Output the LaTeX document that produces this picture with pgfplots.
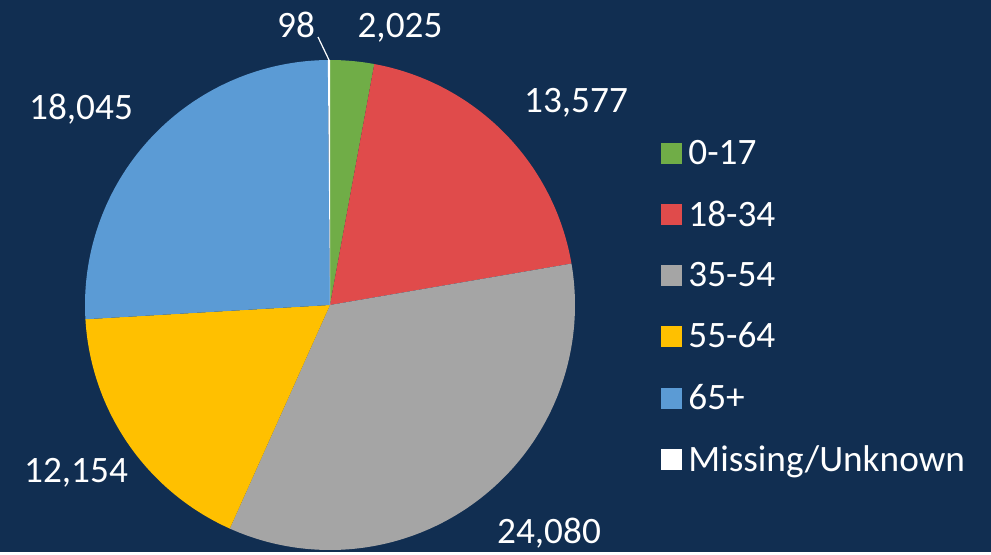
\documentclass[border=0pt]{standalone}
\usepackage{pgfplots}
\pgfplotsset{compat=1.18}
\usepackage{pgfplotstable}
\usepackage{fontspec}
\setmainfont{Carlito}
\definecolor{bgnavy}{HTML}{112E51}
\definecolor{cgreen}{HTML}{70AD47}
\definecolor{cred}{HTML}{E04B4B}
\definecolor{cgray}{HTML}{A5A5A5}
\definecolor{cyellow}{HTML}{FFC000}
\definecolor{cblue}{HTML}{5B9BD5}
\newcommand\lf{\fontsize{18.7pt}{22pt}\selectfont}
\pgfplotstableread{
group value
0-17 2025
18-34 13577
35-54 24080
55-64 12154
65+ 18045
Missing 98
}\agedata
\pgfplotstablegetelem{0}{value}\of\agedata\edef\vA{\pgfplotsretval}
\pgfplotstablegetelem{1}{value}\of\agedata\edef\vB{\pgfplotsretval}
\pgfplotstablegetelem{2}{value}\of\agedata\edef\vC{\pgfplotsretval}
\pgfplotstablegetelem{3}{value}\of\agedata\edef\vD{\pgfplotsretval}
\pgfplotstablegetelem{4}{value}\of\agedata\edef\vE{\pgfplotsretval}
\pgfplotstablegetelem{5}{value}\of\agedata\edef\vF{\pgfplotsretval}
\edef\tot{\fpeval{\vA+\vB+\vC+\vD+\vE+\vF}}
\edef\aA{90}
\edef\aB{\fpeval{90-360*(\vA)/\tot}}
\edef\aC{\fpeval{90-360*(\vA+\vB)/\tot}}
\edef\aD{\fpeval{90-360*(\vA+\vB+\vC)/\tot}}
\edef\aE{\fpeval{90-360*(\vA+\vB+\vC+\vD)/\tot}}
\edef\aF{\fpeval{90-360*(\vA+\vB+\vC+\vD+\vE)/\tot}}
\edef\aG{-270}
\begin{document}
\begin{tikzpicture}
\begin{axis}[
  x=0.5bp, y=0.5bp, xmin=0, xmax=991, ymin=0, ymax=552,
  axis lines=none, ticks=none, clip=false,
  legend image code/.code={\fill[#1] (0bp,-5.25bp) rectangle (10.5bp,5.25bp);},
  legend style={at={(axis cs:661,416)}, anchor=north west, draw=none, fill=none,
    text=white, font=\lf, row sep=12.6bp, inner sep=0pt,
    nodes={inner xsep=2bp, inner ysep=2bp},
    /tikz/every odd column/.append style={column sep=1bp}},
  legend cell align=left,
]
\fill[bgnavy] (axis cs:0,0) rectangle (axis cs:991,552);
\addplot[fill=cgreen, draw=none, domain=\aB:\aA, samples=40, variable=\t]
  ({330+245*cos(\t)},{247+245*sin(\t)}) -- (axis cs:330,247) -- cycle;
\addplot[fill=cred, draw=none, domain=\aC:\aB, samples=100, variable=\t]
  ({330+245*cos(\t)},{247+245*sin(\t)}) -- (axis cs:330,247) -- cycle;
\addplot[fill=cgray, draw=none, domain=\aD:\aC, samples=150, variable=\t]
  ({330+245*cos(\t)},{247+245*sin(\t)}) -- (axis cs:330,247) -- cycle;
\addplot[fill=cyellow, draw=none, domain=\aE:\aD, samples=100, variable=\t]
  ({330+245*cos(\t)},{247+245*sin(\t)}) -- (axis cs:330,247) -- cycle;
\addplot[fill=cblue, draw=none, domain=\aF:\aE, samples=120, variable=\t]
  ({330+245*cos(\t)},{247+245*sin(\t)}) -- (axis cs:330,247) -- cycle;
\addplot[fill=white, draw=none, domain=\aG:\aF, samples=5, variable=\t]
  ({330+245*cos(\t)},{247+245*sin(\t)}) -- (axis cs:330,247) -- cycle;
\addplot[white, line width=0.6bp, forget plot] coordinates {(318,515) (329,492)};
\legend{0-17,18-34,35-54,55-64,65+,Missing/Unknown}
\node[text=white, font=\lf, anchor=base] at (axis cs:296,515) {98};
\node[text=white, font=\lf, anchor=base] at (axis cs:400,515) {2,025};
\node[text=white, font=\lf, anchor=base] at (axis cs:576,440) {13,577};
\node[text=white, font=\lf, anchor=base] at (axis cs:549,9) {24,080};
\node[text=white, font=\lf, anchor=base] at (axis cs:76,70) {12,154};
\node[text=white, font=\lf, anchor=base] at (axis cs:81,433) {18,045};
\end{axis}
\end{tikzpicture}
\end{document}
